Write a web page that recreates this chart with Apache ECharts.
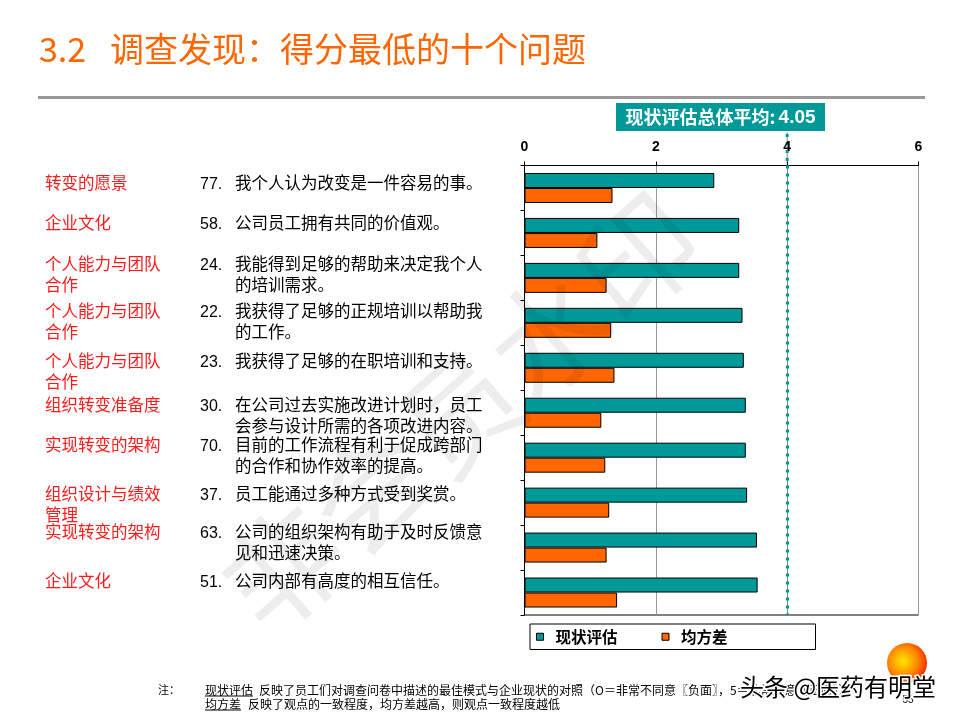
<!DOCTYPE html>
<html>
<head>
<meta charset="utf-8">
<script src="https://cdn.jsdelivr.net/npm/echarts@6/dist/echarts.min.js"></script>
<style>
html,body{margin:0;padding:0;background:#fff;}
#main{width:960px;height:720px;}
</style>
</head>
<body>
<div id="main"></div>
<script>
// ---- data ----
const questionNos = ['77.', '58.', '24.', '22.', '23.', '30.', '70.', '37.', '63.', '51.'];
const themes = ['转变的愿景', '企业文化', '个人能力与团队\n合作', '个人能力与团队\n合作', '个人能力与团队\n合作',
  '组织转变准备度', '实现转变的架构', '组织设计与绩效\n管理', '实现转变的架构', '企业文化'];
const questions = ['我个人认为改变是一件容易的事。', '公司员工拥有共同的价值观。',
  '我能得到足够的帮助来决定我个人\n的培训需求。', '我获得了足够的正规培训以帮助我\n的工作。',
  '我获得了足够的在职培训和支持。', '在公司过去实施改进计划时，员工\n会参与设计所需的各项改进内容。',
  '目前的工作流程有利于促成跨部门\n的合作和协作效率的提高。', '员工能通过多种方式受到奖赏。',
  '公司的组织架构有助于及时反馈意\n见和迅速决策。', '公司内部有高度的相互信任。'];
const currentScores = [2.89, 3.27, 3.27, 3.32, 3.34, 3.37, 3.37, 3.39, 3.54, 3.55];
const stdDevs = [1.34, 1.11, 1.25, 1.32, 1.37, 1.17, 1.23, 1.29, 1.25, 1.41];
const seriesNames = ['现状评估', '均方差'];
const xTicks = [0, 2, 4, 6];
const overallAvgText = '4.05';
const avgLineValue = 4.0;
const title = '3.2';
const titleRest = '调查发现：得分最低的十个问题';
const note1 = '反映了员工们对调查问卷中描述的最佳模式与企业现状的对照（O＝非常不同意〖负面〗，5＝非常同意〖正面〗）';
const note2 = '反映了观点的一致程度，均方差越高，则观点一致程度越低';

const CJK = '"Noto Sans CJK SC", sans-serif';
const ARIAL = '"Liberation Sans", Arial, sans-serif';
const TEAL = '#009999', ORANGE = '#FF6600';

const chart = echarts.init(document.getElementById('main'), null, {renderer: 'canvas'});

chart.setOption({
  animation: false,
  backgroundColor: '#fff',
  grid: {left: 524.5, right: 41.5, top: 165.5, bottom: 105, show: true, borderColor: '#000', borderWidth: 1, containLabel: false},
  legend: {
    left: 530, top: 624, orient: 'horizontal',
    padding: [5, 88, 5, 6], borderColor: '#000', borderWidth: 1,
    icon: 'rect', itemWidth: 7, itemHeight: 7, itemGap: 44,
    itemStyle: {borderColor: '#000', borderWidth: 1},
    textStyle: {fontFamily: CJK, fontWeight: 'bold', fontSize: 15.5, color: '#000', padding: [0, 0, 0, 7]},
    data: seriesNames
  },
  xAxis: {
    type: 'value', position: 'top', min: xTicks[0], max: xTicks[xTicks.length - 1], interval: 2,
    axisLine: {show: true, lineStyle: {color: '#000', width: 1}},
    axisTick: {show: true, length: 4, inside: false, lineStyle: {color: '#000'}},
    axisLabel: {show: true, margin: 11, fontFamily: ARIAL, fontWeight: 'bold', fontSize: 14, color: '#000'},
    splitLine: {show: true, lineStyle: {color: '#999', width: 1}}
  },
  yAxis: {
    type: 'category', inverse: true, data: questionNos,
    axisLine: {show: true, lineStyle: {color: '#000', width: 1}},
    axisTick: {show: true, length: 4, inside: false, alignWithLabel: false, lineStyle: {color: '#000'}},
    axisLabel: {show: false},
    splitLine: {show: false}
  },
  series: [
    {
      name: seriesNames[0], type: 'bar', data: currentScores, barGap: '0%', barCategoryGap: '33.3%',
      itemStyle: {color: TEAL, borderColor: '#000', borderWidth: 1},
      markLine: {
        silent: true, symbol: 'none', label: {show: false}, z: 5,
        lineStyle: {color: TEAL, width: 3, type: [3, 5]},
        data: [{xAxis: avgLineValue}]
      }
    },
    {
      name: seriesNames[1], type: 'bar', data: stdDevs,
      itemStyle: {color: ORANGE, borderColor: '#000', borderWidth: 1},
      markLine: {
        silent: true, symbol: 'none', label: {show: false}, z: 4,
        lineStyle: {color: '#888', width: 1, type: 'solid'},
        data: [{xAxis: avgLineValue}]
      }
    }
  ]
});

// ---- texts and decorations ----
const px = chart.convertToPixel({xAxisIndex: 0}, avgLineValue);
const gridTop = 165.5;
const g = [];

// title
g.push({type: 'text', x: 39, y: 49, style: {text: title, fontFamily: CJK, fontSize: 34, fill: ORANGE, verticalAlign: 'middle'}});
g.push({type: 'text', x: 110, y: 49, style: {text: titleRest, fontFamily: CJK, fontSize: 34, fill: ORANGE, verticalAlign: 'middle'}});
g.push({type: 'rect', shape: {x: 38, y: 96, width: 887, height: 3}, style: {fill: '#999'}});

// average box
g.push({type: 'rect', shape: {x: 616, y: 103, width: 209, height: 28}, style: {fill: TEAL}});
g.push({type: 'text', x: 720.5, y: 117.5, style: {
  text: '{a|现状评估总体平均:} {b|' + overallAvgText + '}',
  align: 'center', verticalAlign: 'middle',
  rich: {
    a: {fontFamily: CJK, fontWeight: 'bold', fontSize: 18, fill: '#fff'},
    b: {fontFamily: ARIAL, fontWeight: 'bold', fontSize: 19, fill: '#fff'}
  }
}});
// avg line extension above plot
g.push({type: 'line', shape: {x1: px, y1: 132, x2: px, y2: gridTop}, style: {stroke: '#888', lineWidth: 1}});
g.push({type: 'line', shape: {x1: px, y1: 134, x2: px, y2: gridTop}, style: {stroke: TEAL, lineWidth: 3, lineDash: [3, 5]}});

// left rows
const rowY = [183, 223, 264, 311, 361, 405, 445, 494, 532, 581];
for (let i = 0; i < rowY.length; i++) {
  g.push({type: 'text', x: 45, y: rowY[i] - 10.5, style: {text: themes[i], fontFamily: CJK, fontSize: 16.5, lineHeight: 21, fill: '#FF1a1a', verticalAlign: 'top'}});
  g.push({type: 'text', x: 200, y: rowY[i] + 1.5, style: {text: questionNos[i], fontFamily: ARIAL, fontSize: 16, fill: '#000', verticalAlign: 'middle'}});
  g.push({type: 'text', x: 235, y: rowY[i] - 10.5, style: {text: questions[i], fontFamily: CJK, fontSize: 16.5, lineHeight: 21, fill: '#000', verticalAlign: 'top'}});
}

// footnote
g.push({type: 'text', x: 158, y: 690, style: {text: '注：', fontFamily: CJK, fontSize: 11, fill: '#000', verticalAlign: 'middle'}});
g.push({type: 'text', x: 205, y: 690, style: {text: seriesNames[0], fontFamily: CJK, fontSize: 12, fill: '#000', verticalAlign: 'middle'}});
g.push({type: 'line', shape: {x1: 205, y1: 696, x2: 253, y2: 696}, style: {stroke: '#000', lineWidth: 1}});
g.push({type: 'text', x: 259, y: 690, style: {text: note1, fontFamily: CJK, fontSize: 12, fill: '#000', verticalAlign: 'middle'}});
g.push({type: 'text', x: 205, y: 704, style: {text: seriesNames[1], fontFamily: CJK, fontSize: 12, fill: '#000', verticalAlign: 'middle'}});
g.push({type: 'line', shape: {x1: 205, y1: 710, x2: 241, y2: 710}, style: {stroke: '#000', lineWidth: 1}});
g.push({type: 'text', x: 248, y: 704, style: {text: note2, fontFamily: CJK, fontSize: 12, fill: '#000', verticalAlign: 'middle'}});

// large diagonal watermark
g.push({type: 'text', x: 460, y: 412, rotation: 0.72, z: 100, style: {
  text: '非会员水印', fontFamily: CJK, fontSize: 118, fill: 'rgba(0,0,0,0.07)', align: 'center', verticalAlign: 'middle'}});

// logo sphere + page number + site watermark
g.push({type: 'circle', shape: {cx: 907, cy: 663, r: 20}, z: 50, style: {
  fill: {type: 'radial', x: 0.4, y: 0.45, r: 0.65, colorStops: [
    {offset: 0, color: '#ffe600'}, {offset: 0.55, color: '#ff8a00'}, {offset: 1, color: '#ee2200'}]}}});
g.push({type: 'text', x: 908, y: 700, z: 60, style: {text: '55', fontFamily: ARIAL, fontSize: 10, fill: '#000', align: 'center', verticalAlign: 'middle'}});
g.push({type: 'text', x: 740, y: 687, z: 70, style: {
  text: '头条 @医药有明堂', fontFamily: CJK, fontSize: 24, fill: '#000', stroke: '#fff', lineWidth: 3, verticalAlign: 'middle'}});

chart.setOption({graphic: g});
</script>
</body>
</html>
